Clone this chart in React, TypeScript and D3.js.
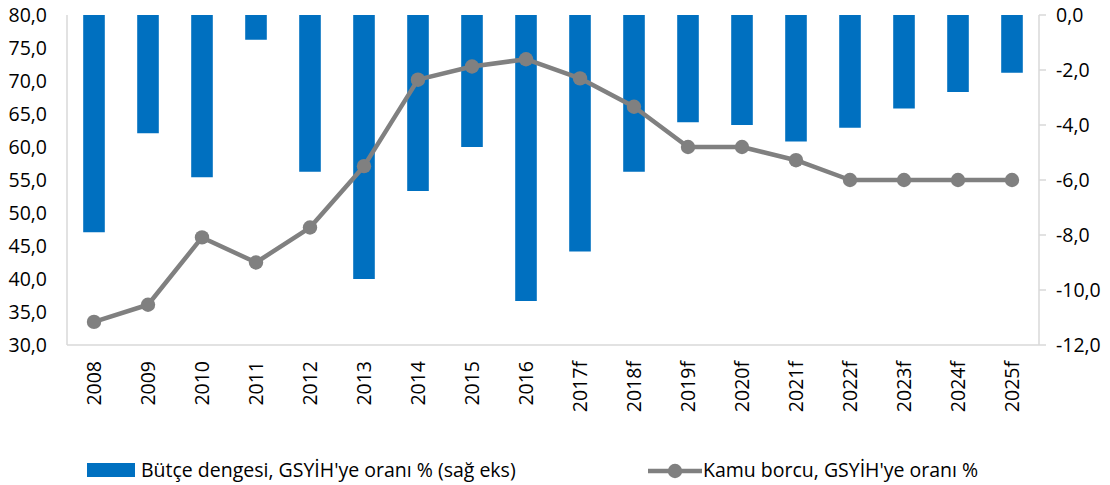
import * as d3 from 'd3'
import React from 'react'

// categories and series
const years = ['2008', '2009', '2010', '2011', '2012', '2013', '2014', '2015', '2016', '2017f', '2018f', '2019f', '2020f', '2021f', '2022f', '2023f', '2024f', '2025f']
const budgetBalance = [-7.9, -4.3, -5.9, -0.9, -5.7, -9.6, -6.4, -4.8, -10.4, -8.6, -5.7, -3.9, -4.0, -4.6, -4.1, -3.4, -2.8, -2.1]
const publicDebt = [33.5, 36.1, 46.3, 42.5, 47.8, 57.1, 70.2, 72.2, 73.3, 70.4, 66.1, 60.0, 60.0, 58.0, 55.0, 55.0, 55.0, 55.0]
const leftTicks = [30, 35, 40, 45, 50, 55, 60, 65, 70, 75, 80]
const rightTicks = [0, -2, -4, -6, -8, -10, -12]
const legendBar = "Bütçe dengesi, GSYİH'ye oranı % (sağ eks)"
const legendLine = "Kamu borcu, GSYİH'ye oranı %"

const W = 1110
const H = 485
const plot = { left: 67, right: 1039, top: 15, bottom: 345 }
const FONT = '"Open Sans", sans-serif'
const FS = 19.5
const BLUE = '#0070C0'
const GREY = '#808080'
const AXIS = '#D9D9D9'

const fmt = (v: number) => v.toFixed(1).replace('.', ',')

export default function App() {
  const band = d3.scaleBand<string>().domain(years).range([plot.left, plot.right])
  const yL = d3.scaleLinear().domain([30, 80]).range([plot.bottom, plot.top])
  const yR = d3.scaleLinear().domain([-12, 0]).range([plot.bottom, plot.top])

  const barW = band.bandwidth() * 0.4
  const cx = (d: string) => (band(d) as number) + band.bandwidth() / 2
  const line = d3
    .line<number>()
    .x((_, i) => cx(years[i]))
    .y((d) => yL(d))

  return (
    <div style={{ position: 'absolute', left: 0, top: 0 }}>
      <svg width={W} height={H} style={{ display: 'block', background: '#fff' }} fontFamily={FONT}>
        {/* bars hang from the 0 line of the right axis */}
        {budgetBalance.map((v, i) => (
          <rect
            key={years[i]}
            x={cx(years[i]) - barW / 2}
            y={yR(0)}
            width={barW}
            height={yR(v) - yR(0)}
            fill={BLUE}
          />
        ))}

        {/* axes */}
        <line x1={plot.left} x2={plot.left} y1={plot.top} y2={plot.bottom} stroke={AXIS} strokeWidth={1.5} />
        <line x1={plot.left} x2={plot.right} y1={plot.bottom} y2={plot.bottom} stroke={AXIS} strokeWidth={1.5} />
        <line x1={plot.right} x2={plot.right} y1={plot.top} y2={plot.bottom} stroke={AXIS} strokeWidth={1.5} />
        {rightTicks.map((t) => (
          <line key={t} x1={plot.right} x2={plot.right + 7} y1={yR(t)} y2={yR(t)} stroke={AXIS} strokeWidth={1.5} />
        ))}

        {leftTicks.map((t) => (
          <text key={t} x={47} y={yL(t)} dy="0.35em" textAnchor="end" fontSize={FS} fill="#000">
            {fmt(t)}
          </text>
        ))}
        {rightTicks.map((t) => (
          <text key={t} x={1056} y={yR(t)} dy="0.35em" textAnchor="start" fontSize={FS} fill="#000">
            {fmt(t)}
          </text>
        ))}

        {years.map((d) => (
          <text
            key={d}
            transform={`translate(${cx(d)},361) rotate(-90)`}
            dy="0.35em"
            textAnchor="end"
            fontSize={FS}
            fill="#000"
          >
            {d}
          </text>
        ))}

        {/* debt line */}
        <path d={line(publicDebt) as string} fill="none" stroke={GREY} strokeWidth={4.5} strokeLinejoin="round" />
        {publicDebt.map((v, i) => (
          <circle key={years[i]} cx={cx(years[i])} cy={yL(v)} r={7.2} fill={GREY} />
        ))}

        {/* legend */}
        <rect x={87} y={463} width={48} height={14} fill={BLUE} />
        <text x={141} y={470} dy="0.35em" fontSize={FS} fill="#000">
          {legendBar}
        </text>
        <line x1={648} x2={702} y1={471} y2={471} stroke={GREY} strokeWidth={4.5} />
        <circle cx={675} cy={471} r={7.2} fill={GREY} />
        <text x={703} y={470} dy="0.35em" fontSize={FS} fill="#000">
          {legendLine}
        </text>
      </svg>
    </div>
  )
}
